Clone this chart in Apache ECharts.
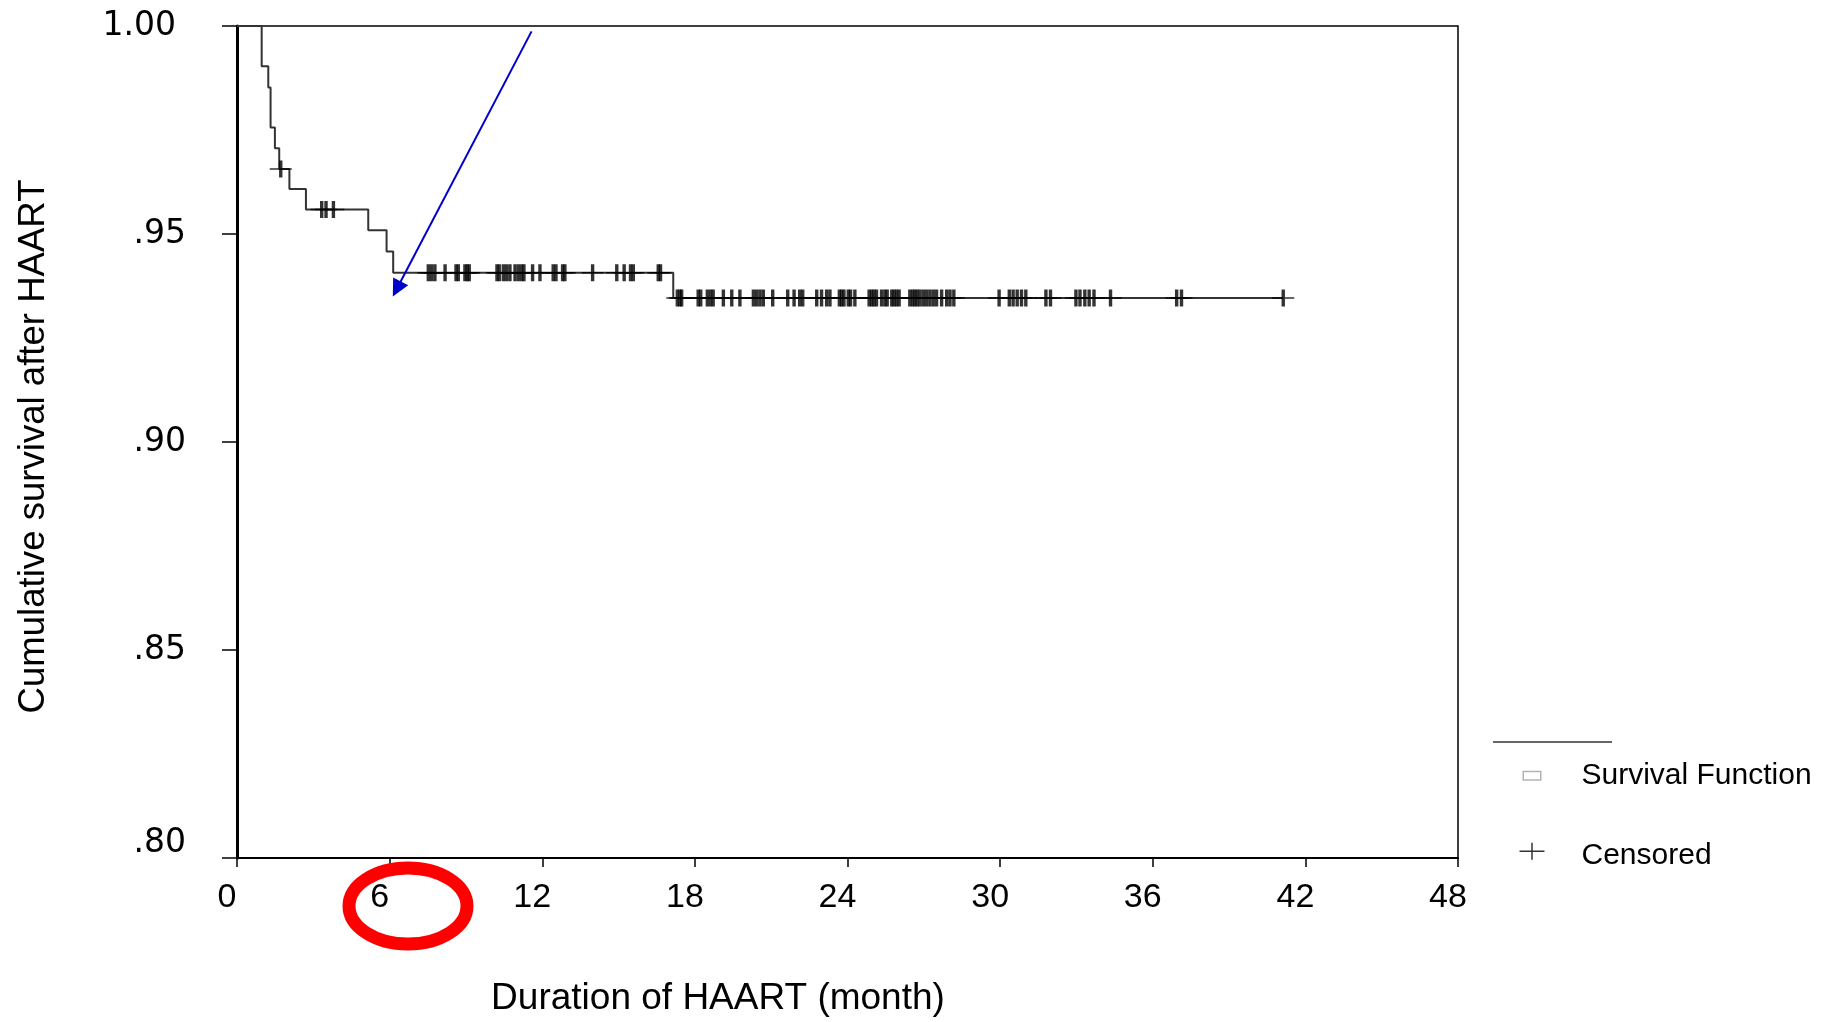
<!DOCTYPE html>
<html><head><meta charset="utf-8">
<script src="https://cdn.jsdelivr.net/npm/echarts@6/dist/echarts.min.js"></script>
<style>html,body{margin:0;padding:0;background:#fff}#c{width:1824px;height:1022px}</style>
</head><body><div id="c"></div>
<script>
// Kaplan-Meier step function (event times in months, survival after the step)
const eventTimes = [0, 0.97, 1.23, 1.32, 1.49, 1.66, 2.06, 2.71, 5.16, 5.88, 6.14, 17.15, 41.13];
const survival   = [1.0, 0.9903, 0.9852, 0.9756, 0.9706, 0.9656, 0.9608, 0.9559, 0.9509, 0.9458, 0.9407, 0.9346, 0.9346];

// Censored observation times (months)
const censoredTimes = [
  1.72,
  3.33, 3.50, 3.79,
  7.52, 7.65, 7.78, 8.18, 8.61, 8.70, 8.96, 9.05, 9.13,
  10.22, 10.31, 10.47, 10.60, 10.73, 10.93, 11.06, 11.19, 11.28, 11.62, 11.91,
  12.43, 12.54, 12.80, 12.89, 13.98, 14.93, 15.22, 15.47, 15.58, 16.56, 16.65,
  17.31, 17.41, 17.48, 18.13, 18.23, 18.49, 18.62, 18.72, 19.12, 19.45, 19.77,
  20.30, 20.43, 20.56, 20.69, 21.06, 21.65, 21.90, 22.12, 22.24, 22.79, 22.98,
  23.18, 23.31, 23.68, 23.77, 23.86, 24.03, 24.12, 24.29, 24.85, 24.95, 25.04,
  25.14, 25.34, 25.47, 25.56, 25.74, 25.83, 25.93, 26.03, 26.45, 26.56, 26.65,
  26.74, 26.85, 26.98, 27.11, 27.24, 27.37, 27.50, 27.70, 27.90, 28.03, 28.18,
  29.96, 30.36, 30.51, 30.67, 30.84, 31.01, 31.80, 31.98, 32.98, 33.14, 33.33,
  33.50, 33.69, 34.34, 36.94, 37.13, 41.13
];

const xTickValues = [0, 6, 12, 18, 24, 30, 36, 42, 48];
const xTickLabels = ['0', '6', '12', '18', '24', '30', '36', '42', '48'];
const yTickValues = [0.80, 0.85, 0.90, 0.95, 1.00];
const yTickLabels = ['.80', '.85', '.90', '.95', '1.00'];

// annotation arrow (data coordinates; end = centre of the arrow head)
const arrowFrom = [11.58, 0.9987];
const arrowTo = [6.28, 0.9368];

function survAt(t) {
  let s = survival[0];
  for (let i = 0; i < eventTimes.length; i++) if (eventTimes[i] <= t) s = survival[i];
  return s;
}
function idxOf(arr, v) {
  for (let i = 0; i < arr.length; i++) if (Math.abs(arr[i] - v) < 1e-6) return i;
  return -1;
}

const plusMark = 'path://M0,7.75 H22 V9.25 H0 Z M9.3,0 H12.7 V17 H9.3 Z';
const legendSquare = 'path://M0,0 M57,26 M3,8 H22 V18 H3 Z M4.5,9.5 V16.5 H20.5 V9.5 Z';
const legendPlus = 'path://M0,0 M57,26 M0,7.75 H25 V9.25 H0 Z M11.75,0 H13.25 V17 H11.75 Z';

const FONT = 'Liberation Sans';
const chart = echarts.init(document.getElementById('c'), null, {renderer: 'canvas'});
chart.setOption({
  animation: false,
  backgroundColor: '#fff',
  grid: {left: 237, right: 366, top: 26, bottom: 154, show: true, borderColor: '#000', borderWidth: 1.5, backgroundColor: 'transparent'},
  xAxis: {
    type: 'value', min: 0, max: 48, interval: 6,
    axisLine: {show: true, onZero: false, lineStyle: {color: '#000', width: 2}},
    axisTick: {show: true, length: 9, lineStyle: {color: '#000', width: 1.5}},
    splitLine: {show: false},
    axisLabel: {
      margin: 23, fontSize: 34, fontFamily: FONT, color: '#000', padding: [0, 20, 0, 0],
      showMinLabel: true, showMaxLabel: true,
      formatter: v => { const i = idxOf(xTickValues, v); return i < 0 ? '' : xTickLabels[i]; }
    },
    name: 'Duration of HAART (month)', nameLocation: 'middle', nameGap: 122,
    nameTextStyle: {fontSize: 37, fontFamily: FONT, color: '#000', padding: [0, 259, 0, 0]}
  },
  yAxis: {
    type: 'value', min: 0.8, max: 1.0, interval: 0.05,
    axisLine: {show: true, onZero: false, lineStyle: {color: '#000', width: 3}},
    axisTick: {show: true, length: 15, lineStyle: {color: '#000', width: 1.5}},
    splitLine: {show: false},
    axisLabel: {
      margin: 51, fontSize: 33, fontFamily: 'DejaVu Sans', color: '#000',
      showMinLabel: true, showMaxLabel: true,
      formatter: v => {
        const i = idxOf(yTickValues, v);
        if (i < 0) return '';
        if (i === yTickValues.length - 1) return '{top|' + yTickLabels[i] + '}';
        if (i === 0) return '{low|' + yTickLabels[i] + '}';
        return yTickLabels[i];
      },
      rich: {
        top: {fontSize: 33, fontFamily: 'DejaVu Sans', color: '#000', padding: [0, 10, 0, 0]},
        low: {fontSize: 33, fontFamily: 'DejaVu Sans', color: '#000', padding: [0, 0, 30, 0]}
      }
    },
    name: 'Cumulative survival after HAART', nameLocation: 'middle', nameGap: 185,
    nameTextStyle: {fontSize: 36.6, fontFamily: FONT, color: '#000', padding: [0, 9, 0, 0]}
  },
  legend: {
    orient: 'vertical', left: 1519.5, top: 760.8, padding: 0, itemWidth: 57, itemHeight: 26, itemGap: 50,
    selectedMode: false,
    textStyle: {fontSize: 30, fontFamily: FONT, color: '#000'},
    data: [
      {name: 'Survival Function', icon: legendSquare, itemStyle: {color: '#b4b4b4', borderWidth: 0}},
      {name: 'Censored', icon: legendPlus, itemStyle: {color: '#000', borderWidth: 0}}
    ]
  },
  series: [
    {
      name: 'Survival Function', type: 'line', step: 'end', symbol: 'none', z: 2,
      data: eventTimes.map((t, i) => [t, survival[i]]),
      lineStyle: {color: '#333', width: 2}, itemStyle: {color: '#333'},
      markLine: {
        silent: true, animation: false, symbol: ['none', 'triangle'], symbolSize: 17,
        label: {show: false},
        lineStyle: {color: '#0000cc', width: 2, type: 'solid'},
        data: [[{coord: arrowFrom}, {coord: arrowTo}]]
      }
    },
    {
      name: 'Censored', type: 'scatter', z: 3,
      symbol: plusMark, symbolSize: [22, 17],
      itemStyle: {color: '#000'},
      data: censoredTimes.map(t => [t, survAt(t)])
    }
  ],
  graphic: [
    {type: 'ellipse', z: 100, shape: {cx: 408, cy: 906, rx: 59, ry: 38}, style: {fill: 'none', stroke: '#ff0000', lineWidth: 13}},
    {type: 'line', z: 100, shape: {x1: 1493, y1: 742, x2: 1612, y2: 742}, style: {stroke: '#333', lineWidth: 1.5}}
  ]
});
</script></body></html>
